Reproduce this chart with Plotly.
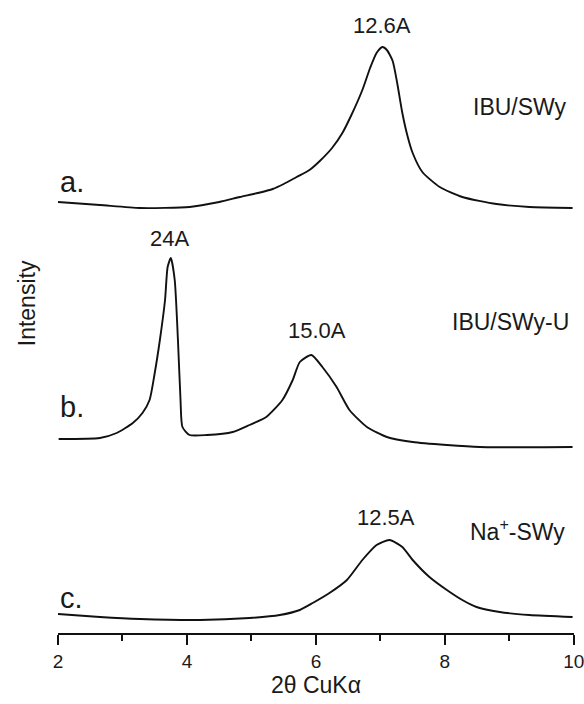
import plotly.graph_objects as go

# ---- data (2θ in degrees, intensity in arbitrary stacked units) ----
x_a = [2.00, 2.65, 3.27, 4.04, 4.50, 4.82, 5.10, 5.33, 5.50, 5.70, 5.90, 6.06, 6.25, 6.41, 6.55, 6.72, 6.84, 6.94, 7.03, 7.10, 7.19, 7.26, 7.34, 7.42, 7.50, 7.65, 7.92, 8.27, 8.80, 9.31, 9.98]
i_a = [431, 428, 425, 426, 431, 436, 440, 444, 449, 456, 463, 472, 485, 500, 518, 543, 565, 580, 586, 583, 572, 550, 520, 497, 480, 461, 446, 436, 429, 426, 425]

x_b = [2.01, 2.65, 2.91, 3.16, 3.31, 3.42, 3.50, 3.58, 3.66, 3.70, 3.75, 3.81, 3.86, 3.90, 3.93, 4.04, 4.31, 4.71, 4.97, 5.23, 5.48, 5.64, 5.75, 5.93, 6.10, 6.32, 6.52, 6.79, 7.10, 7.50, 8.03, 8.54, 9.98]
i_b = [194, 195, 200, 210, 220, 233, 260, 293, 333, 366, 375, 353, 293, 233, 206, 198, 198, 201, 208, 216, 233, 253, 271, 278, 266, 246, 223, 206, 196, 191, 188, 186, 186]

x_c = [2.00, 2.65, 3.27, 4.20, 4.97, 5.44, 5.75, 5.95, 6.21, 6.48, 6.72, 6.94, 7.14, 7.34, 7.50, 7.76, 8.03, 8.27, 8.49, 8.85, 9.31, 9.98]
i_c = [19, 16, 14, 13, 15, 18, 23, 30, 40, 53, 73, 88, 93, 86, 73, 56, 43, 33, 26, 21, 18, 16]

peak_labels = ["12.6A", "24A", "15.0A", "12.5A"]
peak_x = [7.03, 3.73, 6.01, 7.09]
peak_y = [608, 395, 303, 116]

sample_names = ["IBU/SWy", "IBU/SWy-U", "Na<sup>+</sup>-SWy"]
sample_x = [9.93, 9.96, 9.90]
sample_y = [526, 311, 103]

trace_letters = ["a.", "b.", "c."]
letter_y = [451, 226, 35]

x_ticks = [2, 4, 6, 8, 10]

FONT = "Liberation Sans, Arial, sans-serif"
TXT = "#1a1a1a"

fig = go.Figure()
for xs, ys in [(x_a, i_a), (x_b, i_b), (x_c, i_c)]:
    fig.add_trace(go.Scatter(x=xs, y=ys, mode="lines",
                             line=dict(color="#111111", width=1.9, shape="spline", smoothing=0.6),
                             showlegend=False, hoverinfo="skip"))

ann = []
for t, x, y in zip(peak_labels, peak_x, peak_y):
    ann.append(dict(x=x, y=y, xref="x", yref="y", text=t, showarrow=False,
                    xanchor="center", yanchor="middle",
                    font=dict(family=FONT, size=22, color=TXT)))
for t, x, y in zip(sample_names, sample_x, sample_y):
    ann.append(dict(x=x, y=y, xref="x", yref="y", text=t, showarrow=False,
                    xanchor="right", yanchor="middle",
                    font=dict(family=FONT, size=23, color=TXT)))
for t, y in zip(trace_letters, letter_y):
    ann.append(dict(x=2.0, y=y, xref="x", yref="y", text=t, showarrow=False,
                    xanchor="left", yanchor="middle",
                    font=dict(family=FONT, size=29, color=TXT)))
ann.append(dict(x=-0.060, y=0.521, xref="paper", yref="paper", text="Intensity",
                textangle=-90, showarrow=False, xanchor="center", yanchor="middle",
                font=dict(family=FONT, size=23, color=TXT)))

fig.update_layout(
    width=584, height=704,
    margin=dict(l=58, r=10, t=0, b=71),
    paper_bgcolor="white", plot_bgcolor="white",
    annotations=ann,
    xaxis=dict(range=[2, 10.002], tickvals=x_ticks, ticks="outside", ticklen=10, tickwidth=1.5,
               tickcolor="#111111", showline=True, linecolor="#111111", linewidth=1.5,
               showgrid=False, zeroline=False, ticklabeloverflow="allow",
               tickfont=dict(family=FONT, size=19, color=TXT),
               minor=dict(dtick=1, tick0=2, ticks="outside", ticklen=6, tickwidth=1.5,
                          tickcolor="#111111", showgrid=False),
               title=dict(text="2θ CuKα", font=dict(family=FONT, size=23, color=TXT), standoff=6)),
    yaxis=dict(range=[0, 633], visible=False),
)

fig.write_html("out.html")
